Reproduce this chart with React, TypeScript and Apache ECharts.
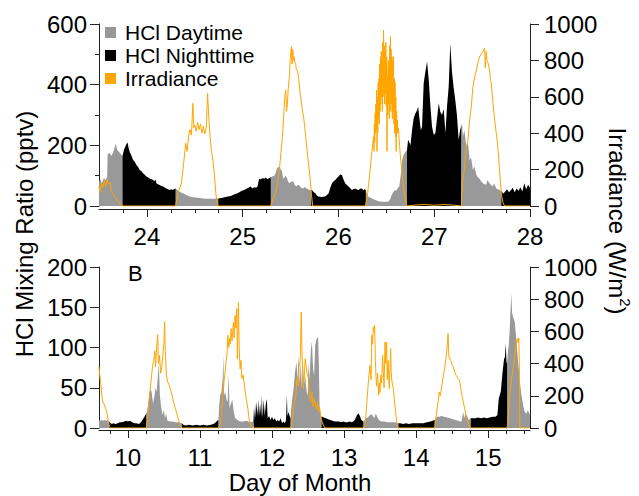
import React, { useEffect, useRef } from 'react';
import * as echarts from 'echarts';

const FONT = 'Liberation Sans, Arial, Helvetica, sans-serif';

// ---------- Panel A (top): days 23.5 - 28 ----------
const TOP_HCL_T = [
  23.5, 23.515, 23.53, 23.55, 23.57, 23.585, 23.59, 23.61, 23.63, 23.65, 23.675, 23.69, 23.71, 23.73, 23.745,
  23.76, 23.78, 23.797, 23.81, 23.821, 23.84, 23.856, 23.875, 23.891, 23.91, 23.925, 23.94, 23.96, 23.975, 23.995,
  24.01, 24.03, 24.05, 24.065, 24.08, 24.09, 24.099, 24.115, 24.134, 24.15, 24.169, 24.185, 24.203, 24.22, 24.238,
  24.255, 24.27, 24.285, 24.3,
  24.32, 24.342, 24.36, 24.377, 24.41, 24.446, 24.48, 24.516, 24.55, 24.585, 24.62, 24.66, 24.7, 24.745,
  24.78, 24.81, 24.845, 24.877, 24.91, 24.946, 24.97, 24.99, 25.016, 25.04, 25.06, 25.085, 25.1, 25.12, 25.14,
  25.155, 25.171, 25.19, 25.21, 25.224, 25.24, 25.26, 25.276, 25.294,
  25.31, 25.33, 25.345, 25.36, 25.38, 25.395, 25.41, 25.42, 25.43, 25.445, 25.46, 25.475, 25.49, 25.51, 25.53,
  25.545, 25.56, 25.575, 25.59, 25.61, 25.63, 25.645, 25.66, 25.68, 25.7, 25.715,
  25.724, 25.74, 25.759, 25.775, 25.79, 25.82, 25.86, 25.88, 25.898, 25.915, 25.932, 25.95, 25.967, 25.985, 26.0,
  26.02, 26.036, 26.05, 26.07, 26.09, 26.106, 26.125, 26.14, 26.16, 26.175, 26.19, 26.21, 26.225, 26.245, 26.26,
  26.275, 26.286,
  26.3, 26.31, 26.35, 26.383, 26.42, 26.45, 26.49, 26.52, 26.54, 26.55, 26.57, 26.59, 26.605, 26.62, 26.635,
  26.65, 26.665, 26.68, 26.7, 26.716,
  26.727, 26.74, 26.752, 26.769, 26.786, 26.804, 26.82, 26.832, 26.849, 26.86, 26.873, 26.89, 26.908, 26.925, 26.943,
  26.96, 26.977, 26.995, 27.012, 27.03, 27.047, 27.064, 27.081, 27.099, 27.117, 27.134, 27.151, 27.168, 27.185, 27.203,
  27.22, 27.237, 27.255, 27.27, 27.283,
  27.29, 27.3, 27.315, 27.335, 27.352, 27.37, 27.385, 27.404, 27.42, 27.44, 27.457, 27.474, 27.49, 27.508, 27.525,
  27.543, 27.555, 27.578, 27.595, 27.613, 27.625, 27.648, 27.665, 27.682, 27.7,
  27.72, 27.74, 27.76, 27.78, 27.8, 27.82, 27.84, 27.86, 27.88, 27.9, 27.92, 27.94, 27.96, 27.98, 28.0,
];
const TOP_HCL_V = [
  80, 88, 75, 92, 85, 95, 170, 175, 165, 178, 205, 185, 178, 170, 165,
  185, 200, 210, 190, 179, 165, 152, 145, 135, 128, 119, 115, 108, 104, 97,
  95, 91, 88, 86, 82, 88, 75, 72, 69, 66, 64, 61, 58, 55, 53,
  55, 53, 56, 58,
  52, 47, 44, 42, 36, 31, 29, 28, 26, 25, 24, 24, 24, 25,
  26, 29, 31, 33, 38, 42, 46, 50, 53, 57, 60, 64, 58, 62, 60,
  64, 90, 88, 92, 90, 94, 88, 92, 95,
  98, 100, 110, 125, 130, 122, 115, 95, 90, 100, 95, 80, 75, 82, 80,
  68, 64, 70, 68, 60, 58, 63, 60, 55, 53, 53,
  53, 46, 42, 35, 31, 30, 31, 36, 42, 60, 75, 82, 86, 92, 97,
  104, 102, 90, 75, 68, 64, 58, 53, 56, 58, 54, 53, 57, 58, 52,
  55, 53,
  36, 31, 25, 20, 16, 14, 14, 14, 22, 31, 45, 53, 50, 60, 64,
  100, 150, 168, 179, 185,
  218, 210, 200, 251, 290, 306, 315, 327, 280, 250, 261, 405, 443, 476, 415,
  330, 261, 235, 240, 290, 339, 310, 300, 320, 240, 330, 393, 536, 443, 390,
  349, 300, 218, 250, 265,
  273, 230, 250, 196, 210, 152, 160, 119, 130, 102, 95, 90, 82, 75, 72,
  70, 85, 75, 68, 64, 75, 58, 55, 53, 50,
  40, 47, 55, 45, 52, 60, 45, 58, 50, 62, 48, 75, 55, 70, 60,
];
const TOP_NIGHTS = [
  [23.745, 24.3], [24.745, 25.294], [25.715, 26.286], [26.716, 27.283], [27.7, 28.0],
];
const TOP_IRR_T = [
  23.5, 23.51, 23.525, 23.54, 23.555, 23.57, 23.585, 23.6, 23.615, 23.63, 23.665, 23.7, 23.735, 23.75,
  24.3, 24.325, 24.36, 24.384, 24.405, 24.42, 24.435, 24.45, 24.465, 24.48, 24.49, 24.5, 24.515, 24.53, 24.545,
  24.56, 24.575, 24.59, 24.605, 24.62, 24.634, 24.645, 24.66, 24.675, 24.69, 24.705, 24.72, 24.738,
  25.294, 25.31, 25.346, 25.38, 25.415, 25.432, 25.44, 25.45, 25.458, 25.467, 25.475, 25.484, 25.49, 25.495, 25.5,
  25.509, 25.515, 25.523, 25.53, 25.536, 25.545, 25.554, 25.56, 25.571, 25.585, 25.6, 25.606, 25.62, 25.64, 25.655,
  25.675, 25.69, 25.703, 25.717, 25.731,
  26.279, 26.297, 26.315, 26.331, 26.349, 26.367, 26.371, 26.375, 26.379, 26.383, 26.387, 26.391, 26.395, 26.399, 26.403,
  26.407, 26.411, 26.415, 26.419, 26.423, 26.427, 26.431, 26.435, 26.439, 26.443, 26.447, 26.451, 26.455, 26.459, 26.463,
  26.467, 26.471, 26.475, 26.479, 26.483, 26.487, 26.491, 26.495, 26.499, 26.503, 26.507, 26.511, 26.515, 26.519, 26.523,
  26.527, 26.531, 26.535, 26.539, 26.543, 26.547, 26.551, 26.555, 26.559, 26.563, 26.567, 26.571, 26.575, 26.579, 26.583,
  26.587, 26.591, 26.595, 26.599, 26.603, 26.607, 26.611, 26.615, 26.619, 26.623, 26.627, 26.644, 26.661, 26.679, 26.696,
  26.714,
  26.8, 26.9, 27.0, 27.1, 27.2,
  27.283, 27.3, 27.315, 27.328, 27.335, 27.352, 27.37, 27.387, 27.404, 27.42, 27.44, 27.457, 27.474, 27.49, 27.508,
  27.526, 27.533, 27.543, 27.55, 27.56, 27.578, 27.587, 27.595, 27.613, 27.63, 27.648, 27.665, 27.682, 27.7, 27.717,
  27.734, 28.0,
];
const TOP_IRR_V = [
  110, 75, 125, 100, 140, 105, 145, 120, 130, 80, 50, 25, 5, 0,
  0, 70, 125, 235, 345, 300, 380, 420, 390, 564, 430, 445, 410, 460, 420,
  450, 400, 440, 395, 430, 619, 500, 380, 300, 250, 170, 70, 0,
  0, 33, 70, 180, 381, 527, 600, 637, 520, 560, 640, 692, 720, 800, 830,
  875, 780, 860, 800, 820, 790, 780, 750, 747, 700, 620, 600, 540, 473, 400,
  290, 220, 161, 70, 0,
  0, 33, 120, 198, 300, 381, 300, 450, 350, 509, 400, 560, 420, 637, 300,
  600, 400, 680, 480, 700, 450, 780, 520, 820, 560, 850, 600, 800, 520, 900,
  600, 967, 650, 880, 560, 850, 620, 900, 550, 820, 300, 720, 500, 800, 560,
  760, 480, 880, 600, 930, 520, 860, 560, 820, 480, 800, 520, 820, 450, 700,
  400, 680, 380, 600, 300, 520, 420, 473, 400, 430, 420, 290, 198, 100, 33,
  0,
  5, 8, 4, 8, 5,
  0, 143, 200, 280, 326, 360, 473, 546, 656, 700, 747, 790, 820, 835, 848,
  866, 760, 850, 800, 790, 747, 690, 680, 564, 480, 400, 320, 198, 70, 20,
  0, 0,
];

// ---------- Panel B (bottom): days 9.6 - 15.58 ----------
const BOT_HCL_T = [
  9.6, 9.62, 9.64, 9.66, 9.68, 9.7, 9.72, 9.74,
  9.76, 9.78, 9.8, 9.83, 9.86, 9.89, 9.92, 9.95, 9.98, 10.0, 10.03, 10.06, 10.09, 10.12, 10.15, 10.17, 10.19,
  10.21, 10.23, 10.245, 10.257,
  10.27, 10.29, 10.31, 10.33, 10.35, 10.37, 10.385, 10.4, 10.415, 10.43, 10.445, 10.46, 10.48, 10.5, 10.515,
  10.53, 10.55, 10.58, 10.62, 10.66, 10.7, 10.75,
  10.77, 10.8, 10.85, 10.9, 10.95, 11.0, 11.05, 11.1, 11.15, 11.19, 11.22, 11.24, 11.257,
  11.27, 11.285, 11.3, 11.315, 11.326, 11.335, 11.35, 11.37, 11.385, 11.4, 11.41, 11.43, 11.45, 11.47, 11.49,
  11.52, 11.56, 11.6, 11.65, 11.7, 11.743,
  11.75, 11.757, 11.765, 11.775, 11.785, 11.8, 11.81, 11.82, 11.835, 11.85, 11.86, 11.87, 11.885, 11.9, 11.915,
  11.929, 11.94, 11.96, 11.98, 12.0, 12.02, 12.04, 12.06, 12.08, 12.1, 12.12, 12.14, 12.16, 12.18, 12.195,
  12.207, 12.215, 12.23, 12.245, 12.257,
  12.267, 12.28, 12.3, 12.32, 12.34, 12.355, 12.369, 12.385, 12.4, 12.415, 12.43, 12.445, 12.461, 12.48, 12.495,
  12.507, 12.52, 12.54, 12.554, 12.57, 12.585, 12.6, 12.62, 12.64, 12.65, 12.66, 12.675, 12.688,
  12.7, 12.72, 12.75, 12.78, 12.81, 12.84, 12.87, 12.9, 12.93, 12.96, 12.99, 13.02, 13.05, 13.08, 13.11,
  13.14, 13.16, 13.18, 13.2, 13.22, 13.24, 13.267,
  13.28, 13.3, 13.33, 13.36, 13.38, 13.4, 13.42, 13.44, 13.46, 13.48, 13.52, 13.56, 13.6, 13.65, 13.7, 13.753,
  13.78, 13.82, 13.86, 13.9, 13.95, 14.0, 14.05, 14.1, 14.15, 14.2, 14.23, 14.257,
  14.27, 14.29, 14.32, 14.35, 14.39, 14.43, 14.47, 14.51, 14.55, 14.58, 14.61, 14.63, 14.645, 14.655, 14.665,
  14.69, 14.71, 14.73, 14.757,
  14.78, 14.82, 14.86, 14.9, 14.94, 14.98, 15.02, 15.06, 15.1, 15.128, 15.146, 15.16, 15.175, 15.183, 15.2,
  15.22, 15.232, 15.243, 15.255, 15.262,
  15.275, 15.285, 15.299, 15.31, 15.322, 15.33, 15.345, 15.368, 15.39, 15.415, 15.44, 15.461, 15.485, 15.507, 15.53,
  15.55, 15.58,
];
const BOT_HCL_V = [
  10, 9, 10, 9, 10, 9, 10, 8,
  6, 5, 6, 5, 6, 7, 7, 8, 9, 8, 9, 7, 6, 6, 5, 6, 8,
  11, 14, 16, 18,
  22, 35, 48, 45, 30, 40, 50, 45, 62, 80, 40, 28, 16, 22, 12,
  18, 9, 8, 8, 7, 7, 6,
  4, 3, 4, 3, 4, 3, 4, 3, 4, 5, 7, 9, 10,
  30, 42, 45, 60, 90, 40, 45, 35, 32, 68, 25, 30, 35, 20, 12,
  10, 8, 8, 9, 7, 8,
  25, 10, 30, 12, 33, 15, 36, 14, 30, 15, 41, 12, 35, 15, 30,
  36, 12, 15, 10, 14, 10, 12, 8, 10, 8, 12, 6, 8, 6, 10,
  41, 15, 20, 15, 12,
  24, 35, 49, 70, 82, 60, 90, 55, 82, 49, 80, 55, 65, 45, 40,
  82, 60, 98, 107, 75, 65, 103, 111, 113, 80, 28, 16, 14,
  14, 13, 12, 11, 10, 9, 8, 8, 8, 7, 8, 7, 7, 8, 7,
  9, 12, 16, 18, 15, 10, 8,
  9, 12, 13, 16, 17, 15, 12, 18, 14, 10, 8, 8, 7, 7, 7, 6,
  6, 5, 6, 5, 6, 6, 6, 6, 7, 8, 9, 10,
  12, 14, 14, 15, 14, 13, 12, 11, 10, 9, 8, 8, 16, 20, 12,
  18, 14, 10, 12,
  12, 12, 13, 12, 13, 12, 13, 14, 14, 16, 36, 41, 45, 53, 70,
  86, 88, 105, 80, 82,
  95, 103, 123, 148, 167, 144, 138, 132, 111, 82, 57, 41, 28, 20, 18,
  22, 16,
];
const BOT_NIGHTS = [
  [9.74, 10.257], [10.75, 11.257], [11.743, 12.257], [12.688, 13.267], [13.753, 14.257], [14.757, 15.262],
];
const BOT_IRR_T = [
  9.6, 9.61, 9.625, 9.64, 9.655, 9.67, 9.685, 9.7, 9.715, 9.73, 9.745, 9.755,
  10.257, 10.28, 10.3, 10.315, 10.33, 10.345, 10.36, 10.375, 10.385, 10.4, 10.415, 10.425, 10.44, 10.455, 10.47,
  10.485, 10.5, 10.51, 10.52, 10.535, 10.55, 10.57, 10.59, 10.61, 10.635, 10.66, 10.685, 10.71, 10.735, 10.75,
  11.257, 11.28, 11.29, 11.304, 11.32, 11.335, 11.35, 11.365, 11.375, 11.387, 11.4, 11.41, 11.42, 11.433, 11.445,
  11.455, 11.466, 11.475, 11.489, 11.5, 11.512, 11.52, 11.528, 11.535, 11.545, 11.558, 11.57, 11.582, 11.6, 11.618,
  11.635, 11.651, 11.665, 11.683, 11.705, 11.73,
  12.257, 12.275, 12.29, 12.3, 12.315, 12.33, 12.346, 12.36, 12.375, 12.392, 12.406, 12.415, 12.425, 12.438, 12.45,
  12.461, 12.475, 12.49, 12.507, 12.52, 12.535, 12.554, 12.57, 12.585, 12.6, 12.615, 12.63, 12.645, 12.66, 12.68,
  12.71, 12.735,
  13.267, 13.29, 13.3, 13.313, 13.33, 13.345, 13.36, 13.375, 13.385, 13.395, 13.406, 13.415, 13.424, 13.435, 13.445,
  13.452, 13.465, 13.48, 13.49, 13.498, 13.51, 13.52, 13.535, 13.545, 13.555, 13.568, 13.58, 13.591, 13.6, 13.61,
  13.628, 13.646, 13.655, 13.665, 13.683, 13.7, 13.715, 13.73, 13.753,
  14.257, 14.27, 14.29, 14.304, 14.32, 14.335, 14.35, 14.365, 14.38, 14.396, 14.41, 14.425, 14.443, 14.455, 14.465,
  14.475, 14.489, 14.5, 14.515, 14.535, 14.55, 14.565, 14.582, 14.6, 14.615, 14.628, 14.645, 14.66, 14.674, 14.69,
  14.705, 14.72, 14.74, 14.757,
  15.262, 15.275, 15.285, 15.299, 15.31, 15.32, 15.332, 15.345, 15.36, 15.375, 15.392, 15.406, 15.415, 15.424, 15.432,
  15.438, 15.58,
];
const BOT_IRR_V = [
  380, 330, 270, 200, 155, 150, 130, 110, 85, 40, 8, 0,
  0, 80, 200, 260, 330, 390, 420, 480, 380, 500, 580, 400, 450, 340, 380,
  450, 520, 660, 480, 330, 290, 270, 240, 210, 160, 120, 80, 40, 8, 0,
  0, 20, 60, 120, 200, 290, 348, 420, 451, 576, 500, 555, 520, 617, 540,
  600, 658, 560, 700, 620, 741, 430, 600, 782, 500, 368, 420, 306, 330, 265,
  203, 161, 120, 58, 17, 0,
  0, 30, 80, 120, 160, 203, 306, 260, 380, 420, 720, 500, 350, 244, 330,
  430, 380, 330, 306, 200, 161, 224, 130, 180, 150, 120, 161, 99, 130, 58,
  20, 0,
  0, 20, 58, 141, 244, 327, 389, 300, 576, 520, 627, 600, 638, 420, 306,
  260, 340, 203, 280, 220, 327, 280, 451, 350, 250, 534, 400, 534, 300, 420,
  244, 493, 340, 286, 250, 161, 100, 37, 0,
  0, 40, 120, 161, 224, 200, 240, 286, 330, 368, 420, 472, 586, 440, 441,
  420, 410, 390, 380, 348, 330, 320, 306, 300, 260, 224, 180, 150, 120, 79,
  50, 37, 6, 0,
  0, 40, 120, 203, 244, 300, 327, 380, 410, 472, 534, 555, 530, 560, 400,
  0, 0,
];

// ---------- axis ticks / labels ----------
const TOP_X_LABELS = [24, 25, 26, 27, 28];
const TOP_X_TICKS = [23.75, 24, 24.25, 24.5, 24.75, 25, 25.25, 25.5, 25.75, 26, 26.25, 26.5, 26.75, 27, 27.25, 27.5, 27.75, 28];
const BOT_X_LABELS = [10, 11, 12, 13, 14, 15];
const BOT_X_TICKS = [9.75, 10, 10.25, 10.5, 10.75, 11, 11.25, 11.5, 11.75, 12, 12.25, 12.5, 12.75, 13, 13.25, 13.5, 13.75, 14, 14.25, 14.5, 14.75, 15, 15.25, 15.5];

const GRAY = '#999999';
const BLACK = '#000000';
const ORANGE = '#FFA500';
const AXIS = '#222222';

function pairs(t: number[], v: number[]) {
  return t.map((x, i) => [x, v[i]]);
}
function splitDayNight(t: number[], v: number[], nights: number[][]) {
  const inside = (x: number) => nights.some(([a, b]) => x > a && x < b);
  const onOrIn = (x: number) => nights.some(([a, b]) => x >= a && x <= b);
  return {
    day: t.map((x, i) => [x, inside(x) ? null : v[i]]),
    night: t.map((x, i) => [x, onOrIn(x) ? v[i] : null]),
  };
}

function xAxes(grid: number, min: number, max: number, ticks: number[], labels: number[], offset: number, margin: number) {
  return [
    {
      gridIndex: grid, type: 'value', min, max, position: 'bottom', offset,
      axisLine: { show: true, onZero: false, lineStyle: { color: AXIS, width: 1 } },
      axisTick: { show: true, customValues: ticks, length: 4, lineStyle: { color: AXIS } },
      axisLabel: { show: true, customValues: labels, fontSize: 24, fontFamily: FONT, color: '#000', margin, formatter: (v: number) => String(v) },
      splitLine: { show: false },
    },
    {
      gridIndex: grid, type: 'value', min, max, position: 'bottom', offset,
      axisLine: { show: false, onZero: false },
      axisTick: { show: true, customValues: labels, length: 8, lineStyle: { color: AXIS } },
      axisLabel: { show: false },
      splitLine: { show: false },
    },
  ];
}

function yAxis(grid: number, position: string, max: number, interval: number, minor: boolean, margin: number) {
  return {
    gridIndex: grid, type: 'value', position, min: 0, max, interval,
    axisLine: { show: true, lineStyle: { color: AXIS, width: 1 } },
    axisTick: { show: true, length: 9, lineStyle: { color: AXIS } },
    minorTick: { show: minor, splitNumber: 2, length: 4, lineStyle: { color: AXIS } },
    axisLabel: { fontSize: 24, fontFamily: FONT, color: '#000', margin, formatter: (v: number) => String(v) },
    splitLine: { show: false },
    minorSplitLine: { show: false },
  };
}

export default function App() {
  const ref = useRef<HTMLDivElement>(null);
  useEffect(() => {
    if (!ref.current) return;
    const chart = echarts.init(ref.current, undefined, { renderer: 'svg' });
    const top = splitDayNight(TOP_HCL_T, TOP_HCL_V, TOP_NIGHTS);
    const bot = splitDayNight(BOT_HCL_T, BOT_HCL_V, BOT_NIGHTS);
    const area = (name: string, color: string, data: any[], xi: number, yi: number) => ({
      name, type: 'line', xAxisIndex: xi, yAxisIndex: yi, data,
      showSymbol: false, symbol: 'none', connectNulls: false,
      itemStyle: { color },
      lineStyle: { width: 0, opacity: 0 },
      areaStyle: { color, opacity: 1 },
      silent: true,
    });
    const line = (data: any[], xi: number, yi: number) => ({
      name: 'Irradiance', type: 'line', xAxisIndex: xi, yAxisIndex: yi, data,
      showSymbol: false, symbol: 'none',
      itemStyle: { color: ORANGE },
      lineStyle: { color: ORANGE, width: 1 },
      silent: true,
    });
    chart.setOption({
      animation: false,
      backgroundColor: '#fff',
      textStyle: { fontFamily: FONT },
      grid: [
        { left: 99, top: 24, width: 431, height: 182 },
        { left: 99, top: 267, width: 431, height: 161 },
      ],
      xAxis: [
        ...xAxes(0, 23.5, 28, TOP_X_TICKS, TOP_X_LABELS, 3, 15),
        ...xAxes(1, 9.6, 15.58, BOT_X_TICKS, BOT_X_LABELS, 2, 15),
      ],
      yAxis: [
        yAxis(0, 'left', 600, 200, true, 12),
        yAxis(0, 'right', 1000, 200, false, 14),
        yAxis(1, 'left', 200, 50, false, 12),
        yAxis(1, 'right', 1000, 200, false, 14),
      ],
      legend: {
        data: ['HCl Daytime', 'HCl Nighttime', 'Irradiance'],
        orient: 'vertical', left: 105, top: 22, padding: 0,
        icon: 'rect', itemWidth: 11, itemHeight: 11, itemGap: 2,
        textStyle: { fontSize: 21, fontFamily: FONT, color: '#000', lineHeight: 21, padding: [0, 0, 0, 4] },
        selectedMode: false,
      },
      series: [
        area('HCl Daytime', GRAY, top.day, 0, 0),
        area('HCl Nighttime', BLACK, top.night, 0, 0),
        line(pairs(TOP_IRR_T, TOP_IRR_V), 0, 1),
        area('HCl Daytime', GRAY, bot.day, 2, 2),
        area('HCl Nighttime', BLACK, bot.night, 2, 2),
        line(pairs(BOT_IRR_T, BOT_IRR_V), 2, 3),
      ],
      graphic: [
        {
          type: 'text', x: 24, y: 234, rotation: Math.PI / 2,
          style: { text: 'HCl Mixing Ratio (pptv)', fontSize: 24, fontFamily: FONT, fill: '#000', align: 'center', verticalAlign: 'middle' },
        },
        {
          type: 'text', x: 617, y: 221, rotation: -Math.PI / 2,
          style: {
            text: '{a|Irradiance (W/m}{s|2}{a|)}',
            align: 'center', verticalAlign: 'middle',
            rich: {
              a: { fontSize: 24, fontFamily: FONT, fill: '#000', lineHeight: 32 },
              s: { fontSize: 15, fontFamily: FONT, fill: '#000', verticalAlign: 'top', lineHeight: 15 },
            },
          },
        },
        {
          type: 'text', x: 300, y: 482,
          style: { text: 'Day of Month', fontSize: 24, fontFamily: FONT, fill: '#000', align: 'center', verticalAlign: 'middle' },
        },
        {
          type: 'text', x: 128, y: 262,
          style: { text: 'B', fontSize: 22, fontFamily: FONT, fill: '#000', align: 'left', verticalAlign: 'top' },
        },
      ],
    });
    return () => chart.dispose();
  }, []);
  return <div ref={ref} style={{ position: 'fixed', left: 0, top: 0, width: 639, height: 496, background: '#fff' }} />;
}
